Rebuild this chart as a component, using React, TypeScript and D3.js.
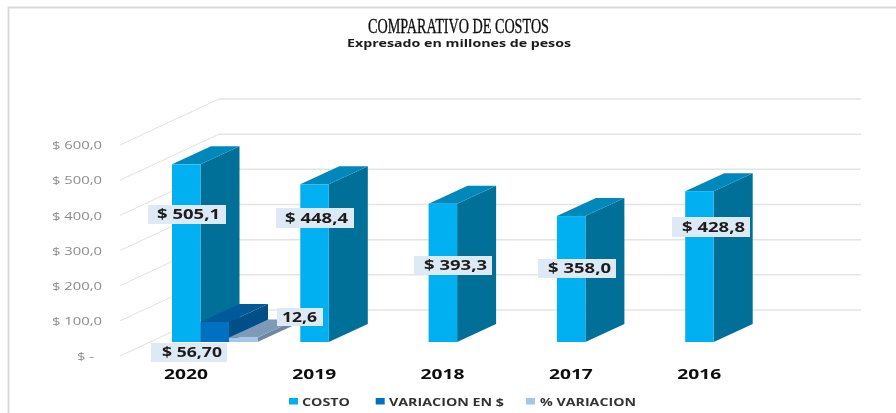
import React from 'react';
import * as d3 from 'd3';

const categories = ['2020', '2019', '2018', '2017', '2016'];
const seriesNames = ['COSTO', 'VARIACION EN $', '% VARIACION'];
const costo = [505.1, 448.4, 393.3, 358.0, 428.8];
const variacion = [56.7, 0, 0, 0, 0];
const pctVariacion = [12.6, 0, 0, 0, 0];
const yTicks = [0, 100, 200, 300, 400, 500, 600];

// front, side, top faces for each series
const faces = [
  ['#00b0f0', '#007099', '#0088ba'],
  ['#0070c0', '#004f86', '#005a9a'],
  ['#a3c6e9', '#6e88a4', '#7e9ab9'],
];

const y = d3.scaleLinear().domain([0, 600]).range([356, 145]);
const x = d3.scalePoint().domain(categories).range([172, 685.2]);
const inner = d3.scaleBand().domain(seriesNames).range([0, 85.5]);

// 3d projection offsets
const wall = { dx: 99, dy: -46 };
const floor = { dx: 30, dy: -14 };
const depth = { dx: 39, dy: -18 };
const gridRight = 861;

const fmtTick = (v: number) => (v === 0 ? '$ -' : '$ ' + v.toFixed(1).replace('.', ','));
const fmt1 = (v: number) => '$ ' + v.toFixed(1).replace('.', ',');

const poly = (pts: number[][]) => pts.map((p) => p.join(',')).join(' ');

const Bar = ({ left, value, s }: { left: number; value: number; s: number }) => {
  const w = inner.bandwidth();
  const right = left + w;
  const top = y(value) + floor.dy;
  const bottom = y(0) + floor.dy;
  const [front, side, lid] = faces[s];
  return (
    <g>
      <polygon points={poly([[right, top], [right + depth.dx, top + depth.dy], [right + depth.dx, bottom + depth.dy], [right, bottom]])} fill={side} />
      <polygon points={poly([[left, top], [left + depth.dx, top + depth.dy], [right + depth.dx, top + depth.dy], [right, top]])} fill={lid} />
      <rect x={left} y={top} width={w} height={bottom - top} fill={front} />
    </g>
  );
};

const Label = ({ box, textX, textW, text }: { box: number[]; textX: number; textW: number; text: string }) => (
  <g>
    <rect x={box[0]} y={box[1]} width={box[2] - box[0]} height={box[3] - box[1]} fill="#dde9f5" />
    <text x={textX} y={(box[1] + box[3]) / 2 + 4.8} fontFamily="'Open Sans'" fontWeight={700} fontSize={13.5} fill="#1c1c1c" textLength={textW} lengthAdjust="spacingAndGlyphs">{text}</text>
  </g>
);

export default function App() {
  const barLeft = (cat: string, name: string) => (x(cat) as number) + (inner(name) as number);
  const stepX = x.step();
  const labelCx = (i: number) => 186 + i * stepX;

  return (
    <svg width={896} height={413} style={{ position: 'absolute', left: 0, top: 0, background: '#fff' }}>
      <defs>
        <filter id="soft" x="-2%" y="-2%" width="104%" height="104%">
          <feGaussianBlur stdDeviation="0.45" />
        </filter>
      </defs>
      <g filter="url(#soft)">
        {/* chart frame */}
        <path d="M8.5,413V7.5H896" fill="none" stroke="#d8d8d8" strokeWidth={1.8} />

        {/* titles */}
        <text x={368} y={32.5} fontFamily="'Liberation Serif'" fontSize={20} fill="#111" stroke="#111" strokeWidth={0.35} textLength={181} lengthAdjust="spacingAndGlyphs">COMPARATIVO DE COSTOS</text>
        <text x={347} y={47} fontFamily="'Open Sans'" fontWeight={700} fontSize={10} fill="#1a1a1a" textLength={224} lengthAdjust="spacingAndGlyphs">Expresado en millones de pesos</text>

        {/* walls */}
        {yTicks.map((t) => (
          <g key={t}>
            <line x1={120} x2={120 + wall.dx} y1={y(t)} y2={y(t) + wall.dy} stroke="#e0e0e0" strokeWidth={1} />
            <line x1={120 + wall.dx} x2={gridRight} y1={y(t) + wall.dy} y2={y(t) + wall.dy} stroke="#e4e4e4" strokeWidth={1.5} />
            <text x={t === 0 ? 77 : 52} y={y(t) + 4.2} fontFamily="'Open Sans'" fontSize={11.5} fill="#8c8c8c" textLength={t === 0 ? 17 : 50} lengthAdjust="spacingAndGlyphs">{fmtTick(t)}</text>
          </g>
        ))}

        {/* bars */}
        {categories.map((c, i) => (
          <g key={c}>
            <Bar left={barLeft(c, seriesNames[0])} value={costo[i]} s={0} />
            {variacion[i] > 0 && <Bar left={barLeft(c, seriesNames[1])} value={variacion[i]} s={1} />}
            {pctVariacion[i] > 0 && <Bar left={barLeft(c, seriesNames[2])} value={pctVariacion[i]} s={2} />}
          </g>
        ))}

        {/* data labels, moved by hand in the original */}
        <Label box={[148, 205, 226, 224]} textX={157} textW={63} text={fmt1(costo[0])} />
        <Label box={[276, 208, 354, 228]} textX={285} textW={63} text={fmt1(costo[1])} />
        <Label box={[414, 256, 492, 275]} textX={424} textW={63} text={fmt1(costo[2])} />
        <Label box={[538, 259, 616, 278]} textX={548} textW={63} text={fmt1(costo[3])} />
        <Label box={[672, 217, 750, 237]} textX={682} textW={63} text={fmt1(costo[4])} />
        <Label box={[151, 343, 227, 362]} textX={162} textW={60} text={'$ ' + variacion[0].toFixed(2).replace('.', ',')} />
        <Label box={[277, 308, 323, 326]} textX={282} textW={35} text={pctVariacion[0].toFixed(1).replace('.', ',')} />

        {/* category axis */}
        {categories.map((c, i) => (
          <text key={c} x={labelCx(i)} y={378.5} textAnchor="middle" fontFamily="'Open Sans'" fontWeight={700} fontSize={13.5} fill="#111" textLength={44} lengthAdjust="spacingAndGlyphs">{c}</text>
        ))}

        {/* legend */}
        {seriesNames.map((name, i) => {
          const sw = [289, 375.7, 526][i];
          const tx = [302, 389, 540][i];
          const tw = [48, 115, 96][i];
          return (
            <g key={name}>
              <rect x={sw} y={398} width={9} height={6.5} fill={faces[i][0]} />
              <text x={tx} y={405.5} fontFamily="'Open Sans'" fontWeight={700} fontSize={10} fill="#333" textLength={tw} lengthAdjust="spacingAndGlyphs">{name}</text>
            </g>
          );
        })}
      </g>
    </svg>
  );
}
